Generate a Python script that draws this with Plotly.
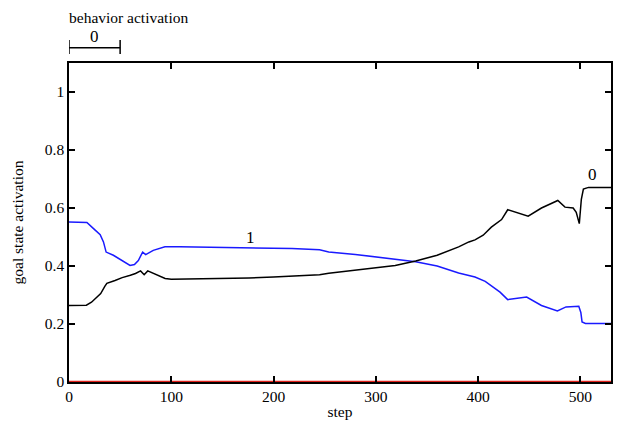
import plotly.graph_objects as go

# goal 0 (black)
steps_g0 = [0, 10, 17, 22, 27, 31, 35, 37, 45, 52, 60, 65, 70, 73.5, 77, 85, 94, 100,
            130, 176, 200, 228, 245, 254, 280, 300, 319, 339, 360, 381, 391, 397, 405,
            413, 423, 429, 449, 462, 478, 485, 493, 496, 499, 501, 503, 508, 530]
vals_g0 = [0.264, 0.264, 0.265, 0.275, 0.293, 0.305, 0.33, 0.34, 0.35, 0.36, 0.368, 0.374,
           0.383, 0.370, 0.383, 0.37, 0.357, 0.354, 0.355, 0.359, 0.362, 0.368, 0.37, 0.375,
           0.385, 0.393, 0.402, 0.417, 0.437, 0.466, 0.483, 0.49, 0.506, 0.534, 0.56, 0.594,
           0.572, 0.60, 0.626, 0.603, 0.60, 0.585, 0.546, 0.63, 0.665, 0.671, 0.671]

# goal 1 (blue)
steps_g1 = [0, 10, 17.5, 24, 30.5, 33.7, 36.3, 43.4, 51.6, 59.7, 64, 67.8, 72, 75, 82.4,
            93.8, 108, 140, 176.5, 218, 245, 254, 280, 300, 319, 339, 360, 381, 397, 407,
            421.5, 429, 447.5, 462, 477.6, 486, 498.5, 500.5, 501.7, 505, 530]
vals_g1 = [0.552, 0.552, 0.550, 0.529, 0.508, 0.483, 0.448, 0.437, 0.419, 0.402, 0.405,
           0.419, 0.448, 0.439, 0.454, 0.466, 0.466, 0.465, 0.463, 0.460, 0.456, 0.448,
           0.440, 0.432, 0.425, 0.415, 0.40, 0.376, 0.362, 0.347, 0.31, 0.284, 0.293,
           0.264, 0.245, 0.259, 0.261, 0.24, 0.207, 0.202, 0.202]

# goal 2 (red, stays at zero)
steps_g2 = [0, 530]
vals_g2 = [0.0, 0.0]

# curve labels
curve_labels = ["1", "0"]
curve_label_x = [177, 512]
curve_label_y = [0.50, 0.714]

# behavior activation bar
behavior_start = [0]
behavior_end = [50]
behavior_names = ["0"]

x_ticks = [0, 100, 200, 300, 400, 500]
y_ticks = [0, 0.2, 0.4, 0.6, 0.8, 1]
y_tick_text = ["0", "0.2", "0.4", "0.6", "0.8", "1"]

FONT = "Liberation Serif"

fig = go.Figure()
fig.add_trace(go.Scatter(x=steps_g2, y=vals_g2, mode="lines",
                         line=dict(color="#e0201a", width=2.5), showlegend=False))
fig.add_trace(go.Scatter(x=steps_g1, y=vals_g1, mode="lines",
                         line=dict(color="#1a1aff", width=1.5), showlegend=False))
fig.add_trace(go.Scatter(x=steps_g0, y=vals_g0, mode="lines",
                         line=dict(color="black", width=1.5), showlegend=False))

for t, x, y in zip(curve_labels, curve_label_x, curve_label_y):
    fig.add_annotation(x=x, y=y, text=t, showarrow=False,
                       font=dict(family=FONT, size=17, color="black"))

fig.add_annotation(xref="paper", yref="paper", x=0, xanchor="left", xshift=-2,
                   y=1.0, yanchor="middle", yshift=46, text="behavior activation",
                   showarrow=False, font=dict(family=FONT, size=15.5, color="black"))
for s, e, n in zip(behavior_start, behavior_end, behavior_names):
    fig.add_shape(type="line", xref="x", yref="paper", x0=s, x1=e, y0=1.048, y1=1.048,
                  line=dict(color="black", width=1.5))
    fig.add_shape(type="line", xref="x", yref="paper", x0=s, x1=s, y0=1.028, y1=1.072,
                  line=dict(color="black", width=1.5))
    fig.add_shape(type="line", xref="x", yref="paper", x0=e, x1=e, y0=1.028, y1=1.072,
                  line=dict(color="black", width=1.5))
    fig.add_annotation(xref="x", yref="paper", x=(s + e) / 2, y=1.0, yanchor="middle",
                       yshift=27, text=n, height=14,
                       showarrow=False, font=dict(family=FONT, size=17, color="black"))

axis_common = dict(showline=True, linecolor="black", linewidth=1.5, mirror="ticks",
                   ticks="inside", ticklen=6, tickwidth=1.5, tickcolor="black",
                   showgrid=False, zeroline=False,
                   tickfont=dict(family=FONT, size=15.5, color="black"))

fig.update_xaxes(range=[0, 530], tickvals=x_ticks,
                 title=dict(text="step", font=dict(family=FONT, size=15.5, color="black"),
                            standoff=2),
                 **axis_common)
fig.update_yaxes(range=[0, 1.1], tickvals=y_ticks, ticktext=y_tick_text,
                 title=dict(text="goal state activation",
                            font=dict(family=FONT, size=15.5, color="black"), standoff=17),
                 **axis_common)

fig.update_layout(width=620, height=425, plot_bgcolor="white", paper_bgcolor="white",
                  font=dict(family=FONT),
                  margin=dict(l=69, r=7, t=63, b=42), showlegend=False)

fig.write_html("out.html")
